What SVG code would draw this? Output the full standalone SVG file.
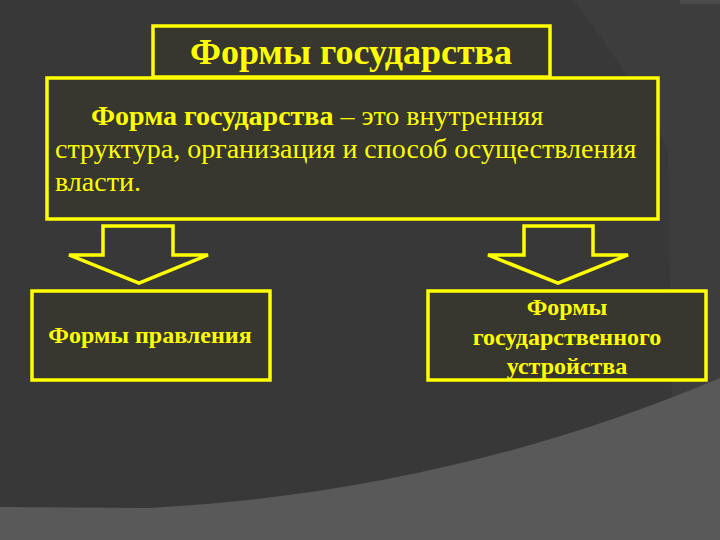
<svg xmlns="http://www.w3.org/2000/svg" width="720" height="540" viewBox="0 0 720 540">
<style>
.box{fill:#37362f;stroke:#ffff00;stroke-width:3.5}
.arrow{fill:#383838;stroke:#ffff00;stroke-width:3.5;stroke-linejoin:miter}
.t{font-family:"Liberation Serif","Times New Roman",serif;fill:#ffff00}
.b{font-weight:bold}
</style>
<g id="background">
<rect x="0" y="0" width="720" height="540" fill="#383838"/>
<path d="M573,0 Q635,80 668,150 L672,420 L720,420 L720,0 Z" fill="#3d3d3d"/>
<rect x="680" y="0" width="40" height="4" fill="#4a4a4a"/>
<path d="M0,507 L150,508 Q450,492 720,378 L720,540 L0,540 Z" fill="#595959"/>
</g>
<g id="connectors">
<path class="arrow" d="M103,226 L173,226 L173,255 L208,255 L139,283 L69,255 L103,255 Z"/>
<path class="arrow" d="M524,226 L593,226 L593,255 L628,255 L558,283 L488,255 L524,255 Z"/>
</g>
<g id="main">
<rect class="box" x="47" y="78" width="611" height="141"/>
<text class="t" font-size="28"><tspan x="91" y="125"><tspan class="b">Форма государства</tspan> – это внутренняя</tspan><tspan x="55" y="158">структура, организация и способ осуществления</tspan><tspan x="55" y="191">власти.</tspan></text>
</g>
<g id="title">
<rect class="box" x="153" y="26" width="397" height="51"/>
<text class="t b" x="351" y="64" font-size="36" text-anchor="middle">Формы государства</text>
</g>
<g id="left">
<rect class="box" x="32" y="291" width="238" height="89"/>
<text class="t b" x="150" y="343" font-size="24" text-anchor="middle">Формы правления</text>
</g>
<g id="right">
<rect class="box" x="428" y="291" width="278" height="89"/>
<text class="t b" font-size="24" text-anchor="middle"><tspan x="567" y="315">Формы</tspan><tspan x="567" y="345">государственного</tspan><tspan x="567" y="374">устройства</tspan></text>
</g>
</svg>
